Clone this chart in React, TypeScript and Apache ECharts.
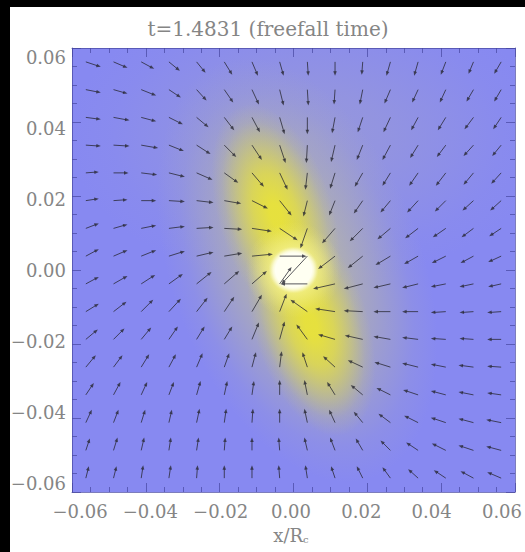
import React, { useEffect, useRef } from 'react';
import * as echarts from 'echarts';

// ---------------------------------------------------------------------------
// Collapse snapshot: projected density and velocity field near the centre
// ---------------------------------------------------------------------------
const TITLE = 't=1.4831 (freefall time)';
const AXIS_MIN = -0.06;
const AXIS_MAX = 0.06;
const TICK_STEP = 0.02;

// cell centres of the 16 x 16 velocity grid, in units of R_c
const gridX = [
  -0.05625, -0.04875, -0.04125, -0.03375, -0.02625, -0.01875, -0.01125, -0.00375,
  0.00375, 0.01125, 0.01875, 0.02625, 0.03375, 0.04125, 0.04875, 0.05625,
];
// rows listed from the top of the panel downwards
const gridY = [
  0.05625, 0.04875, 0.04125, 0.03375, 0.02625, 0.01875, 0.01125, 0.00375,
  -0.00375, -0.01125, -0.01875, -0.02625, -0.03375, -0.04125, -0.04875, -0.05625,
];

// in-plane velocity components, one row per gridY entry (arbitrary units)
const velU = [
  [15, 14, 13, 11, 9, 8, 6, 4, 1, 0, -1, -4, -4, -5, -5, -7],
  [15, 14, 15, 12, 10, 9, 7, 4, 1, -1, -3, -6, -6, -6, -7, -7],
  [15, 16, 15, 14, 12, 10, 8, 5, 0, -3, -5, -7, -7, -8, -9, -8],
  [15, 16, 17, 15, 14, 12, 10, 6, -1, -4, -6, -8, -8, -9, -10, -9],
  [13, 15, 16, 16, 16, 14, 12, 8, -2, -5, -8, -8, -9, -10, -10, -10],
  [13, 14, 15, 16, 17, 17, 16, 12, -4, -6, -9, -10, -11, -11, -11, -11],
  [13, 14, 15, 16, 17, 18, 20, 18, -7, -13, -13, -13, -13, -13, -12, -12],
  [13, 14, 15, 16, 17, 18, 21, 27, -26, -17, -15, -15, -14, -14, -13, -13],
  [13, 14, 14, 14, 15, 15, 15, 12, -27, -22, -19, -17, -16, -15, -14, -13],
  [13, 13, 12, 12, 11, 10, 10, 7, -17, -20, -19, -17, -16, -15, -14, -14],
  [12, 11, 10, 9, 8, 8, 7, 5, -11, -17, -18, -17, -16, -15, -14, -14],
  [10, 9, 8, 7, 6, 5, 4, 2, -5, -12, -15, -16, -16, -15, -15, -14],
  [8, 7, 6, 5, 4, 3, 2, 0, -3, -8, -12, -14, -15, -15, -15, -14],
  [6, 5, 4, 3, 3, 2, 1, 0, -3, -6, -9, -12, -14, -15, -15, -15],
  [4, 4, 3, 2, 2, 1, 0, -1, -3, -5, -7, -10, -12, -14, -15, -15],
  [3, 3, 2, 2, 1, 0, 0, -1, -2, -4, -6, -8, -10, -12, -13, -14],
];
const velV = [
  [-5, -6, -7, -9, -11, -13, -14, -14, -14, -14, -13, -14, -14, -13, -12, -12],
  [-3, -4, -6, -8, -11, -13, -15, -16, -16, -15, -15, -14, -13, -13, -12, -12],
  [-2, -3, -4, -7, -10, -13, -15, -17, -17, -16, -15, -15, -13, -13, -12, -12],
  [-1, -1, -3, -6, -9, -12, -15, -18, -18, -17, -15, -15, -13, -12, -11, -11],
  [1, 0, -2, -4, -7, -10, -14, -17, -17, -16, -14, -13, -13, -13, -12, -11],
  [2, 1, 0, -1, -2, -3, -8, -15, -16, -15, -13, -12, -12, -11, -10, -10],
  [5, 4, 3, 2, 1, -1, -3, -12, -20, -15, -13, -11, -10, -9, -9, -8],
  [7, 6, 6, 5, 4, 3, 2, 0, -28, -13, -12, -9, -8, -7, -7, -6],
  [7, 8, 9, 10, 12, 13, 13, 17, 0, -5, -5, -4, -4, -3, -3, -3],
  [8, 10, 12, 13, 14, 15, 17, 18, 12, 3, 1, 0, 0, -1, -1, -1],
  [10, 11, 12, 13, 13, 13, 17, 18, 15, 5, 4, 3, 2, 1, 1, 0],
  [12, 12, 13, 13, 14, 14, 15, 16, 15, 11, 7, 5, 4, 3, 2, 1],
  [12, 13, 13, 13, 14, 14, 14, 15, 15, 13, 10, 7, 5, 4, 3, 2],
  [13, 13, 13, 13, 14, 14, 14, 14, 14, 13, 11, 9, 7, 5, 4, 3],
  [12, 13, 13, 13, 13, 13, 13, 13, 13, 13, 12, 10, 8, 7, 5, 4],
  [12, 12, 13, 13, 13, 13, 13, 13, 13, 12, 12, 11, 9, 8, 7, 6],
];

// column-density components: centre, semi-axes (R_c), orientation (deg), peak level
const blobX = [0.004, 0.001, -0.0048, 0.0048, 0.0, 0.0];
const blobY = [0.036, 0.0, 0.015, -0.015, 0.0, 0.0];
const blobMajor = [0.065, 0.06, 0.031, 0.031, 0.013, 0.0068];
const blobMinor = [0.04, 0.034, 0.0155, 0.0155, 0.013, 0.0064];
const blobAngle = [0, -70, -73, -73, 0, 0];
const blobPeak = [0.16, 0.52, 0.78, 0.78, 0.9, 1.0];
const blobCore = [0.0, 0.05, 0.1, 0.1, 0.2, 0.72];

// drawing parameters
const ARROW_SCALE = 0.00027; // R_c per velocity unit
const ARROW_COLOR = 'rgba(40,40,50,0.78)';
const PLOT_BG = '#8789f1';
const FRAME_COLOR = 'rgba(70,70,160,0.7)';
const TEXT_COLOR = '#858585';
const FONT = '"DejaVu Serif", serif';

// blue -> grey -> yellow -> white colour table
const cmapStops: [number, number[]][] = [
  [0.0, [135, 137, 241]],
  [0.5, [184, 183, 168]],
  [0.8, [236, 230, 48]],
  [1.0, [255, 255, 242]],
];
function densityColor(level: number): number[] {
  for (let i = 1; i < cmapStops.length; i++) {
    const [l1, c1] = cmapStops[i];
    const [l0, c0] = cmapStops[i - 1];
    if (level <= l1) {
      const t = (level - l0) / (l1 - l0);
      return c0.map((c, k) => Math.round(c + (c1[k] - c) * t));
    }
  }
  return cmapStops[cmapStops.length - 1][1];
}
const rgba = (c: number[], a: number) => `rgba(${c[0]},${c[1]},${c[2]},${a})`;

const densityData = blobX.map((x, i) => [
  x, blobY[i], blobMajor[i], blobMinor[i], blobAngle[i], blobPeak[i], blobCore[i],
]);

const arrowData: number[][] = [];
gridY.forEach((y, r) => {
  gridX.forEach((x, c) => {
    arrowData.push([x, y, velU[r][c], velV[r][c]]);
  });
});

function renderBlob(_params: any, api: any) {
  const c = api.coord([api.value(0), api.value(1)]);
  const rx = api.size([api.value(2), 0])[0];
  const ry = api.size([0, api.value(3)])[1];
  const rot = (api.value(4) * Math.PI) / 180;
  const col = densityColor(api.value(5));
  const core = api.value(6);
  const alpha = api.value(5) >= 1 ? 1 : 0.95;
  const span = 1 - core;
  return {
    type: 'ellipse',
    x: c[0],
    y: c[1],
    rotation: rot,
    shape: { cx: 0, cy: 0, rx, ry },
    style: {
      fill: new echarts.graphic.RadialGradient(0.5, 0.5, 0.5, [
        { offset: 0, color: rgba(col, alpha) },
        { offset: core, color: rgba(col, alpha) },
        { offset: core + span * 0.3, color: rgba(col, alpha * 0.78) },
        { offset: core + span * 0.6, color: rgba(col, alpha * 0.4) },
        { offset: core + span * 0.82, color: rgba(col, alpha * 0.12) },
        { offset: 1, color: rgba(col, 0) },
      ]),
    },
  };
}

function renderArrow(_params: any, api: any) {
  const x = api.value(0);
  const y = api.value(1);
  const p0 = api.coord([x, y]);
  const p1 = api.coord([x + api.value(2) * ARROW_SCALE, y + api.value(3) * ARROW_SCALE]);
  const dx = p1[0] - p0[0];
  const dy = p1[1] - p0[1];
  const len = Math.hypot(dx, dy) || 1;
  const ux = dx / len;
  const uy = dy / len;
  const hl = Math.min(4.5, len * 0.4);
  const hw = 1.8;
  const bx = p1[0] - ux * hl;
  const by = p1[1] - uy * hl;
  return {
    type: 'group',
    children: [
      {
        type: 'line',
        shape: { x1: p0[0], y1: p0[1], x2: bx + ux, y2: by + uy },
        style: { stroke: ARROW_COLOR, lineWidth: 1 },
      },
      {
        type: 'polygon',
        shape: {
          points: [
            [p1[0], p1[1]],
            [bx - uy * hw, by + ux * hw],
            [bx + uy * hw, by - ux * hw],
          ],
        },
        style: { fill: ARROW_COLOR },
      },
    ],
  };
}

const tickLabel = (v: number) => {
  if (Math.abs(v) < 1e-9) return '0.00';
  return (v < 0 ? '\u2212' : '') + Math.abs(v).toFixed(2);
};

function frameAxis(position: string, gridIndex: number) {
  return {
    type: 'value',
    gridIndex,
    position,
    min: AXIS_MIN,
    max: AXIS_MAX,
    interval: TICK_STEP,
    z: 5,
    axisLine: { show: true, onZero: false, lineStyle: { color: FRAME_COLOR, width: 1 } },
    axisTick: { show: true, inside: true, length: 9, lineStyle: { color: FRAME_COLOR, width: 1 } },
    minorTick: { show: true, splitNumber: 4, length: 5, lineStyle: { color: FRAME_COLOR, width: 1 } },
    axisLabel: { show: false },
    splitLine: { show: false },
    minorSplitLine: { show: false },
  };
}

function labelAxis(position: string, margin: number, extra: any = {}) {
  return {
    type: 'value',
    gridIndex: 1,
    position,
    min: AXIS_MIN,
    max: AXIS_MAX,
    interval: TICK_STEP,
    axisLine: { show: false, onZero: false },
    axisTick: { show: false },
    splitLine: { show: false },
    axisLabel: {
      show: true,
      margin,
      formatter: tickLabel,
      fontFamily: FONT,
      fontSize: 18,
      color: TEXT_COLOR,
    },
    ...extra,
  };
}

export default function App() {
  const ref = useRef<HTMLDivElement>(null);

  useEffect(() => {
    document.body.style.margin = '0';
    if (!ref.current) return;
    const chart = echarts.init(ref.current, undefined, { renderer: 'svg' });

    chart.setOption({
      animation: false,
      backgroundColor: '#ffffff',
      title: {
        text: TITLE,
        left: 263,
        top: 14,
        textAlign: 'center',
        textStyle: { fontFamily: FONT, fontSize: 20, fontWeight: 'normal', color: TEXT_COLOR },
      },
      graphic: [
        { type: 'rect', shape: { x: 0, y: 0, width: 10, height: 552 }, style: { fill: '#000' }, z: 100 },
        { type: 'rect', shape: { x: 0, y: 0, width: 525, height: 7 }, style: { fill: '#000' }, z: 100 },
      ],
      grid: [
        {
          left: 72, top: 48, width: 443, height: 444,
          show: true, backgroundColor: PLOT_BG, borderWidth: 0,
        },
        { left: 80, top: 57, width: 422, height: 426, show: false },
      ],
      xAxis: [
        frameAxis('bottom', 0),
        frameAxis('top', 0),
        labelAxis('bottom', 19, {
          name: '{m|x/R}{s|c}',
          nameLocation: 'middle',
          nameGap: 41,
          nameTextStyle: {
            color: TEXT_COLOR,
            rich: {
              m: { fontFamily: FONT, fontSize: 18, color: TEXT_COLOR, lineHeight: 22 },
              s: { fontFamily: FONT, fontSize: 10, color: TEXT_COLOR, lineHeight: 22, padding: [9, 0, 0, 0] },
            },
          },
        }),
      ],
      yAxis: [
        frameAxis('left', 0),
        frameAxis('right', 0),
        labelAxis('left', 14),
      ],
      series: [
        {
          type: 'custom',
          name: 'density',
          xAxisIndex: 0,
          yAxisIndex: 0,
          silent: true,
          clip: true,
          z: 1,
          encode: { x: 0, y: 1 },
          renderItem: renderBlob,
          data: densityData,
        },
        {
          type: 'custom',
          name: 'velocity',
          xAxisIndex: 0,
          yAxisIndex: 0,
          silent: true,
          z: 3,
          encode: { x: 0, y: 1 },
          renderItem: renderArrow,
          data: arrowData,
        },
      ],
    });

    return () => chart.dispose();
  }, []);

  return <div ref={ref} style={{ width: 525, height: 552 }} />;
}
